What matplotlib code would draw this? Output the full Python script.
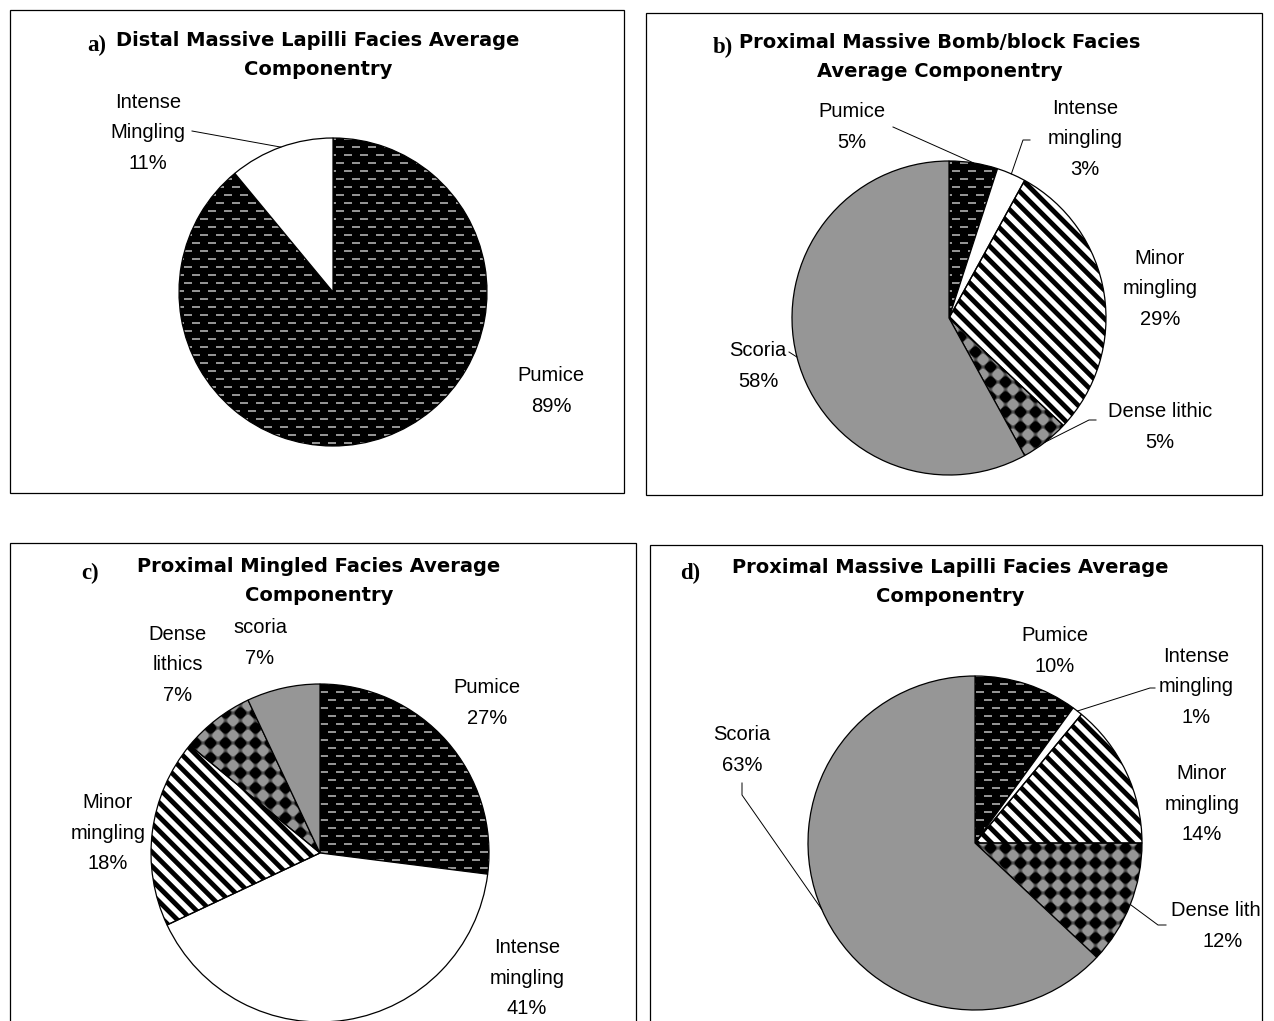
import numpy as np
import matplotlib
matplotlib.use("Agg")
import matplotlib.pyplot as plt
from matplotlib.patches import Rectangle
from matplotlib.transforms import Bbox, TransformedBbox

W, H = 1274, 1021

# ---------------- data ----------------
a_title = "Distal Massive Lapilli Facies Average\nComponentry"
a_labels = ["Pumice\n89%", "Intense\nMingling\n11%"]
a_values = [89, 11]
a_fills = ["pumice", "intense"]

b_title = "Proximal Massive Bomb/block Facies\nAverage Componentry"
b_labels = ["Pumice\n5%", "Intense\nmingling\n3%", "Minor\nmingling\n29%",
            "Dense lithic\n5%", "Scoria\n58%"]
b_values = [5, 3, 29, 5, 58]
b_fills = ["pumice", "intense", "minor", "dense", "scoria"]

c_title = "Proximal Mingled Facies Average\nComponentry"
c_labels = ["Pumice\n27%", "Intense\nmingling\n41%", "Minor\nmingling\n18%",
            "Dense\nlithics\n7%", "scoria\n7%"]
c_values = [27, 41, 18, 7, 7]
c_fills = ["pumice", "intense", "minor", "dense", "scoria"]

d_title = "Proximal Massive Lapilli Facies Average\nComponentry"
d_labels = ["Pumice\n10%", "Intense\nmingling\n1%", "Minor\nmingling\n14%",
            "Dense lithic\n12%", "Scoria\n63%"]
d_values = [10, 1, 14, 12, 63]
d_fills = ["pumice", "intense", "minor", "dense", "scoria"]

# ---------------- fill textures (pixel grids) ----------------
yy, xx = np.mgrid[0:H, 0:W].astype(float)

def pumice_texture():
    row = (yy // 8).astype(int)
    phase = (xx + (row % 2) * 8) % 16
    dash = ((yy % 8) >= 3) & ((yy % 8) < 5) & (phase < 8)
    v = np.where(dash, 0.58, 0.0)
    return np.dstack([v, v, v])

def checker_texture(d=15.0):
    f = np.sin(np.pi * (xx + yy) / d) * np.sin(np.pi * (xx - yy) / d)
    t = np.clip(0.5 + 2.2 * f, 0, 1)
    v = 0.59 * t
    return np.dstack([v, v, v])

def stripe_texture(p=10.0, ang=45.0):
    a = np.deg2rad(ang)
    s = -xx * np.sin(a) + yy * np.cos(a)
    v = np.clip(0.5 + 1.6 * (np.cos(2 * np.pi * s / p) + 0.05), 0, 1)
    return np.dstack([v, v, v])

TEXTURES = {"pumice": pumice_texture(), "dense": checker_texture(),
            "minor": stripe_texture()}
SOLID = {"intense": "white", "scoria": "#969696"}

LABEL_FONT = dict(family=["Liberation Sans", "DejaVu Sans"], fontsize=14.5,
                  linespacing=1.78)
TITLE_FONT = dict(family=["DejaVu Sans"], fontsize=14, fontweight="bold",
                  linespacing=1.7)
LETTER_FONT = dict(family=["Liberation Serif", "DejaVu Serif"], fontsize=16.5,
                   fontweight="bold")

fig = plt.figure(figsize=(W / 100, H / 100), dpi=100)
ax = fig.add_axes([0, 0, 1, 1])


def Y(y):
    """Top-down page y to data y."""
    return H - y


def panel(frame, letter, letter_xy, title, title_xy, center, radius,
          values, fills, labels, label_xy, leaders):
    x0, y0, x1, y1 = frame
    ax.add_patch(Rectangle((x0, Y(y1)), x1 - x0, y1 - y0, fill=False,
                           edgecolor="black", linewidth=0.9, zorder=5))
    clip = TransformedBbox(Bbox([[x0, Y(y1)], [x1, Y(y0)]]), ax.transData)

    ax.text(letter_xy[0], Y(letter_xy[1]), letter, ha="center", va="center",
            **LETTER_FONT)
    ax.text(title_xy[0], Y(title_xy[1]), title, ha="center", va="center",
            multialignment="center", **TITLE_FONT)

    colors = [SOLID.get(f, "none") for f in fills]
    wedges, _ = ax.pie(values, startangle=90, counterclock=False,
                       center=(center[0], Y(center[1])), radius=radius,
                       colors=colors, frame=True,
                       wedgeprops=dict(edgecolor="black", linewidth=0.9,
                                       zorder=3))
    for w, f in zip(wedges, fills):
        if f in TEXTURES:
            im = ax.imshow(TEXTURES[f], extent=(0, W, 0, H), origin="upper",
                           interpolation="nearest", zorder=2)
            im.set_clip_path(w)

    for w, lab, (lx, ly), lead in zip(wedges, labels, label_xy, leaders):
        t = ax.text(lx, Y(ly), lab, ha="center", va="center",
                    multialignment="center", **LABEL_FONT)
        t.set_clip_on(True)
        t.set_clip_box(clip)
        if lead is not None:
            mid = np.deg2rad((w.theta1 + w.theta2) / 2)
            ex = w.center[0] + w.r * np.cos(mid)
            ey = w.center[1] + w.r * np.sin(mid)
            px = [p[0] for p in lead] + [ex]
            py = [Y(p[1]) for p in lead] + [ey]
            ax.plot(px, py, color="black", linewidth=0.7, zorder=4)


# a) distal massive lapilli
panel(frame=(10, 10, 624, 493), letter="a)", letter_xy=(97, 45),
      title=a_title, title_xy=(318, 55), center=(333, 292), radius=154,
      values=a_values, fills=a_fills, labels=a_labels,
      label_xy=[(551, 391), (148, 133)],
      leaders=[None, [(192, 131)]])

# b) proximal massive bomb/block
panel(frame=(646, 13, 1262, 495), letter="b)", letter_xy=(723, 47),
      title=b_title, title_xy=(940, 57), center=(949, 318), radius=157,
      values=b_values, fills=b_fills, labels=b_labels,
      label_xy=[(852, 127), (1085, 139), (1160, 289), (1160, 427), (758, 366)],
      leaders=[[(893, 127)], [(1030, 140), (1023, 140)], None,
               [(1096, 420), (1089, 420)], [(789, 352)]])

# c) proximal mingled
panel(frame=(10, 543, 636, 1040), letter="c)", letter_xy=(90, 573),
      title=c_title, title_xy=(319, 581), center=(320, 853), radius=169,
      values=c_values, fills=c_fills, labels=c_labels,
      label_xy=[(487, 703), (527, 978), (108, 833), (178, 665), (260, 643)],
      leaders=[None, None, None, None, None])

# d) proximal massive lapilli
panel(frame=(650, 545, 1262, 1040), letter="d)", letter_xy=(690, 573),
      title=d_title, title_xy=(950, 582), center=(975, 843), radius=167,
      values=d_values, fills=d_fills, labels=d_labels,
      label_xy=[(1055, 651), (1196, 687), (1202, 804), (1223, 926), (742, 750)],
      leaders=[None, [(1155, 688), (1150, 688)], None,
               [(1166, 925), (1158, 925)], [(742, 783), (742, 795)]])

ax.set_xlim(0, W)
ax.set_ylim(0, H)
ax.set_aspect("auto")
ax.axis("off")
fig.savefig("out.png", dpi=100, facecolor="white")
